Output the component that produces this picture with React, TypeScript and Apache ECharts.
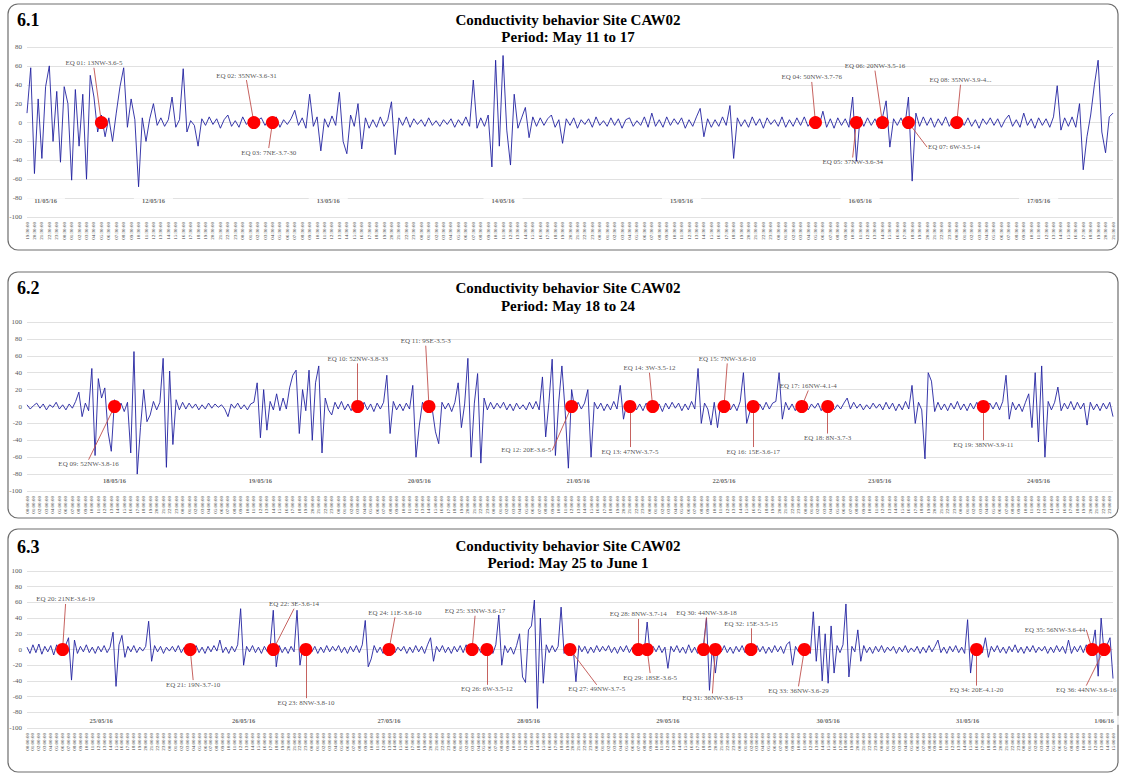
import React, { useEffect, useRef } from "react";
import * as echarts from "echarts";

const FONT = "'Liberation Serif', 'Times New Roman', 'DejaVu Serif', serif";

// ---------------- DATA ----------------
// Half-hourly conductivity readings (index = half-hour step)
// 6.1: 11/05/16 19:30 -> 17/05/16 21:30
const p1Values = [
  10, 58, -54, 25, -38, 38, 60, -20, 33, -42, 38, 20,
  -61, 35, -25, 30, -60, 50, 27, -10, 8, -15, 5, -20,
  10, 38, 58, -5, 25, 3, -68, 5, -20, 4, 20, -3,
  5, -4, 3, 27, -5, 3, 57, -10, 2, -3, -25, 4,
  -3, 6, -2, 4, -6, 3, 8, -4, 2, -5, 6, -2,
  3, -4, 2, 5, -3, 4, -2, 6, -5, 3, -2, 4,
  13, -3, 5, -6, 30, -4, 6, -30, 4, -5, 7, -3,
  32, -20, -33, 8, -4, 20, -28, 5, -6, 3, -5, 6,
  -4, 3, 22, -34, 5, -3, 6, -5, 4, -2, 3, -4,
  5, -3, 2, -4, 3, -2, 4, -5, 3, -3, 6, -4,
  45, -6, 5, -4, 8, -47, 66, -25, 71, -8, -45, 30,
  -6, 5, 16, -16, 6, -4, 5, -3, 4, 8, -5, 3,
  -22, 4, -3, 5, -6, 3, -2, 4, -5, 6, -3, 2,
  -4, 5, -3, 4, -6, 3, 5, -4, 2, -3, 6, -5,
  10, -4, 3, -5, 6, -3, 4, -2, 5, -6, 3, -4,
  6, 15, -15, 4, -5, 3, -4, 6, -3, 18, -38, 5,
  -4, 3, -5, 6, -3, 4, -6, 5, -2, 3, -4, 6,
  -5, 3, -4, 5, -3, 6, -4, 2, 5, -3, 12, -5,
  4, -6, 5, -3, 4, -5, 27, -41, 6, -4, 5, -3,
  4, -6, 5, 23, -26, 4, -3, 5, -5, 27, -62, 10,
  -4, 6, -3, 5, -5, 4, -3, 6, -4, 3, -5, 4,
  -3, 5, -4, 3, -6, 4, -2, 5, -3, 4, -5, 3,
  8, -4, 3, -5, 10, -3, 4, -6, 5, -3, 4, -5,
  6, 39, -8, 5, -4, 6, -5, 20, -50, -15, 8, 40,
  66, -10, -32, 6, 10,
];
// 6.2: 18/05/16 00:00 -> 24/05/16 23:30
const p2Values = [
  2, -3, 1, 4, -2, 3, -4, 2, -1, 5, -3, 2,
  -4, 3, -2, 6, 17, -12, 4, -5, 45, -58, 33, 10,
  22, -30, -53, 8, -5, 4, -6, 5, -55, 65, -80, -25,
  20, -18, -10, 6, -4, 5, 57, -72, 42, -45, 8, -4,
  5, -3, 4, -2, 3, -4, 2, -3, 4, -2, 3, -1,
  2, -3, -12, 3, -2, 4, -3, 2, -4, 3, 5, 28,
  -37, 20, -28, 6, -4, 15, -5, 10, -3, 22, 37, 43,
  -32, 20, -5, 43, -40, 28, 48, -55, 10, -4, -10, 5,
  -3, 6, -4, 3, -5, 4, 6, -3, 5, -4, 3, -6,
  4, -3, 5, 37, -32, 6, -4, 3, -5, 4, -3, 25,
  -60, -23, 5, -4, 6, -3, -30, -44, 5, -3, 4, -6,
  5, 28, -25, 3, 57, -60, 4, 39, -67, 10, -4, 5,
  -3, 4, -2, 5, -4, 3, -5, 4, -3, 2, -4, 5,
  -3, 6, -4, 35, -36, 5, 56, -58, 4, 48, -5, -73,
  20, -4, 5, -3, 4, 20, -60, 5, -3, 4, -5, 3,
  -4, 6, -3, 25, -15, 4, -3, 5, -4, 3, -5, 4,
  -3, 5, -4, 3, -6, 4, -3, 5, -2, 4, -5, 3,
  -4, 6, -3, 45, -20, 4, -3, -22, 5, -25, 4, -3,
  5, -4, 3, -5, 6, 40, -20, -6, 4, -5, 3, -4,
  5, -3, 4, 6, 40, -15, 5, -4, 3, -5, 4, -3,
  5, -4, 3, -2, 4, -5, 3, -3, 5, -4, 2, -3,
  4, 10, -3, 5, -2, 3, -4, 2, -3, 4, -2, 3,
  -4, 5, -3, 4, -5, 3, -4, 6, -3, 25, -20, 5,
  -4, -62, 40, 30, -6, 5, -4, 3, -5, 4, -3, 6,
  -4, 3, -5, 4, -3, 5, -4, 3, -2, 4, -3, 5,
  -4, 6, 37, -15, 5, -4, 3, -6, 5, 15, -25, 40,
  -42, 48, -60, 6, -4, 5, 23, -5, 4, -3, 6, -4,
  5, -3, 4, -22, 5, -4, 3, -5, 4, -3, 5, -12,
];
// 6.3: 25/05/16 00:00 -> 01/06/16 15:00
const p3Values = [
  3, -5, 6, -4, 7, -6, 4, -3, 5, -7, 6, -4,
  3, 5, 15, -39, 12, -5, 4, -3, 6, -4, 3, -5,
  4, -3, 5, -4, 3, 22, -47, 6, 18, -10, 4, -3,
  5, -4, 3, -2, 4, 36, -15, 5, -3, 4, -5, 3,
  -2, 4, -3, 5, -4, 3, -2, 4, -3, 5, -4, 3,
  -5, 4, -3, 5, -2, 12, -4, 3, -5, 4, -3, 6,
  52, -20, 4, -3, 5, -4, 3, -5, 4, -3, 6, 50,
  -22, 5, -4, 3, -5, 4, -3, 50, -20, 5, -4, 6,
  -3, 4, -5, 3, -4, 5, -3, 4, -2, 5, -4, 3,
  -5, 4, -3, 5, -4, 6, 37, -22, -12, 5, -4, 3,
  -5, 4, -3, 5, -4, 3, -2, 4, -5, 3, -4, 5,
  -3, 4, -5, 6, 15, -15, 4, -3, 5, -4, 3, -5,
  4, -3, 5, -4, 6, -3, 4, -5, 3, -4, 5, -3,
  4, -5, 6, 44, -20, 5, -4, 3, -6, 5, 20, -35,
  -42, 25, 30, 63, -75, 40, -43, 6, -4, 5, -3, 4,
  54, -5, 4, -3, 6, -41, 5, -3, 4, -5, 3, -4,
  5, -3, 4, -2, 5, -4, 3, -5, 4, -3, 5, -4,
  3, -5, 4, 6, -3, 35, -6, 4, -3, 5, -4, 3,
  -24, 4, -3, 5, -4, 3, -5, 6, -4, 3, -5, 4,
  6, 40, -52, 5, -30, 4, -3, 5, -4, 3, -5, 4,
  -3, 5, -4, 3, 6, -4, 5, -3, 4, -5, 3, -4,
  5, -3, 4, -5, 6, 10, -20, 4, -3, 5, -4, 3,
  -5, 48, -15, 30, -40, 20, -43, 30, -30, 5, -4, 6,
  58, -35, 4, -3, 25, -15, 5, -4, 3, -5, 4, -3,
  5, -4, 3, -2, 4, -5, 3, -3, 5, -4, 2, -3,
  4, -5, 3, -4, 5, -3, 4, 12, -4, 3, -5, 4,
  -3, 5, -4, 3, -5, 38, -30, 4, -3, 5, -4, 15,
  -10, 4, -3, 5, -4, 3, -5, 4, -3, 6, -4, 3,
  -5, 4, -3, 5, -4, 3, -2, 4, -5, 3, -4, 5,
  -3, 4, -5, 12, -5, 4, -3, 5, -4, 6, -3, 4,
  25, -34, 40, -5, 6, 15, -37,
];

// first sample time of each panel (minutes after midnight)
const p1StartMin = 19 * 60 + 30;
const p2StartMin = 0;
const p3StartMin = 0;

// day labels and the sample index where they are written
const p1Dates = ["11/05/16", "12/05/16", "13/05/16", "14/05/16", "15/05/16", "16/05/16", "17/05/16"];
const p1DateAt = [5, 34, 81, 128, 176, 224, 272];
const p2Dates = ["18/05/16", "19/05/16", "20/05/16", "21/05/16", "22/05/16", "23/05/16", "24/05/16"];
const p2DateAt = [27, 72, 121, 170, 215, 263, 312];
const p3Dates = ["25/05/16", "26/05/16", "27/05/16", "28/05/16", "29/05/16", "30/05/16", "31/05/16", "1/06/16"];
const p3DateAt = [25, 73, 122, 169, 216, 270, 317, 363];

// earthquakes: label and sample index
const p1Quakes = ["EQ 01: 13NW-3.6-5", "EQ 02: 35NW-3.6-31", "EQ 03: 7NE-3.7-30", "EQ 04: 50NW-3.7-76", "EQ 05: 37NW-3.6-34", "EQ 06: 20NW-3.5-16", "EQ 07: 6W-3.5-14", "EQ 08: 35NW-3.9-4..."];
const p1QuakeAt = [20, 61, 66, 212, 223, 230, 237, 250];
const p2Quakes = ["EQ 09: 52NW-3.8-16", "EQ 10: 52NW-3.8-33", "EQ 11: 9SE-3.5-3", "EQ 12: 20E-3.6-5", "EQ 13: 47NW-3.7-5", "EQ 14: 3W-3.5-12", "EQ 15: 7NW-3.6-10", "EQ 16: 15E-3.6-17", "EQ 17: 16NW-4.1-4", "EQ 18: 8N-3.7-3", "EQ 19: 38NW-3.9-11"];
const p2QuakeAt = [27, 102, 124, 168, 186, 193, 215, 224, 239, 247, 295];
const p3Quakes = ["EQ 20: 21NE-3.6-19", "EQ 21: 19N-3.7-10", "EQ 22: 3E-3.6-14", "EQ 23: 8NW-3.8-10", "EQ 24: 11E-3.6-10", "EQ 25: 33NW-3.6-17", "EQ 26: 6W-3.5-12", "EQ 27: 49NW-3.7-5", "EQ 28: 8NW-3.7-14", "EQ 29: 18SE-3.6-5", "EQ 30: 44NW-3.8-18", "EQ 31: 36NW-3.6-13", "EQ 32: 15E-3.5-15", "EQ 33: 36NW-3.6-29", "EQ 34: 20E-4.1-20", "EQ 35: 56NW-3.6-44", "EQ 36: 44NW-3.6-16"];
const p3QuakeAt = [12, 55, 83, 94, 122, 150, 155, 183, 206, 209, 228, 232, 244, 262, 320, 359, 363];

const titles = ["Period: May 11 to 17", "Period: May 18 to 24", "Period: May 25 to June 1"];
const panelNumbers = ["6.1", "6.2", "6.3"];

// ---------------- LAYOUT (callout placement: [index, value, side]) ----------------
const p1Callouts: [number, number, string][] = [[18, 58, "top"], [59, 45, "top"], [65, -27, "bottom"], [211, 43, "top"], [222, -37, "bottom"], [228, 55, "top"], [242, -26, "right"], [251, 40, "top"]];
const p2Callouts: [number, number, string][] = [[19, -63, "bottom"], [102, 51, "top"], [123, 72, "top"], [162, -52, "left"], [186, -48, "bottom"], [192, 40, "top"], [216, 51, "top"], [224, -48, "bottom"], [241, 19, "top"], [247, -32, "bottom"], [295, -40, "bottom"]];
const p3Callouts: [number, number, string][] = [[13, 58, "top"], [56, -39, "bottom"], [90, 52, "top"], [94, -62, "bottom"], [124, 41, "top"], [151, 43, "top"], [155, -45, "bottom"], [192, -45, "bottom"], [206, 39, "top"], [210, -30, "bottom"], [229, 41, "top"], [231, -56, "bottom"], [244, 27, "top"], [260, -47, "bottom"], [320, -46, "bottom"], [357, 25, "left"], [357, -46, "bottom"]];

const LAYOUT = [
  { gridTop: 47, gridH: 170, yMax: 80, box: [8, 4, 1110, 246], titleTop: 11, lh: 17, dateVal: -82 },
  { gridTop: 322, gridH: 169, yMax: 100, box: [8, 272, 1110, 246], titleTop: 279, lh: 18, dateVal: -88 },
  { gridTop: 571, gridH: 157, yMax: 100, box: [8, 529, 1110, 243], titleTop: 538, lh: 16.5, dateVal: -90 },
];

function timeLabels(startMin: number, n: number): string[] {
  const out: string[] = [];
  for (let i = 0; i < n; i++) {
    const m = (startMin + i * 30) % 1440;
    const hh = String(Math.floor(m / 60)).padStart(2, "0");
    const mm = String(m % 60).padStart(2, "0");
    out.push(`${hh}:${mm}:00`);
  }
  return out;
}

const panels = [
  { values: p1Values, start: p1StartMin, dates: p1Dates, dateAt: p1DateAt, quakes: p1Quakes, quakeAt: p1QuakeAt, callouts: p1Callouts },
  { values: p2Values, start: p2StartMin, dates: p2Dates, dateAt: p2DateAt, quakes: p2Quakes, quakeAt: p2QuakeAt, callouts: p2Callouts },
  { values: p3Values, start: p3StartMin, dates: p3Dates, dateAt: p3DateAt, quakes: p3Quakes, quakeAt: p3QuakeAt, callouts: p3Callouts },
];

function buildOption() {
  const grid: any[] = [];
  const xAxis: any[] = [];
  const yAxis: any[] = [];
  const series: any[] = [];
  const graphic: any[] = [];

  panels.forEach((p, i) => {
    const L = LAYOUT[i];
    grid.push({ left: 27, width: 1086, top: L.gridTop, height: L.gridH });
    xAxis.push({
      type: "category",
      gridIndex: i,
      data: timeLabels(p.start, p.values.length),
      boundaryGap: false,
      axisLine: { show: false },
      axisTick: { show: false },
      splitLine: { show: false },
      axisLabel: { rotate: 90, fontSize: 5, interval: 1, margin: 5, color: "#404040", fontFamily: FONT },
    });
    yAxis.push({
      type: "value",
      gridIndex: i,
      min: -100,
      max: L.yMax,
      interval: 20,
      axisLine: { show: false },
      axisTick: { show: false },
      axisLabel: { fontSize: 7, color: "#595959", fontFamily: FONT, margin: 5 },
      splitLine: { lineStyle: { color: "#d9d9d9", width: 0.8 } },
    });

    series.push({
      type: "line",
      xAxisIndex: i,
      yAxisIndex: i,
      data: p.values,
      showSymbol: false,
      symbol: "none",
      silent: true,
      lineStyle: { color: "#2222a0", width: 0.9 },
      z: 2,
    });
    series.push({
      type: "scatter",
      xAxisIndex: i,
      yAxisIndex: i,
      symbolSize: 0,
      silent: true,
      data: p.dates.map((d, k) => ({ name: d, value: [p.dateAt[k], L.dateVal] })),
      label: {
        show: true,
        position: "inside",
        formatter: "{b}",
        fontSize: 6.5,
        fontWeight: "bold",
        fontFamily: FONT,
        color: "#404040",
        backgroundColor: "#ffffff",
        padding: [1, 8],
      },
      z: 3,
    });
    series.push({
      type: "scatter",
      xAxisIndex: i,
      yAxisIndex: i,
      symbolSize: 0,
      silent: true,
      data: p.quakes.map((q, k) => ({
        name: q,
        value: [p.callouts[k][0], p.callouts[k][1]],
        label: { position: p.callouts[k][2] },
      })),
      label: { show: true, formatter: "{b}", fontSize: 7, fontFamily: FONT, color: "#262626", distance: 1 },
      markLine: {
        silent: true,
        symbol: ["none", "none"],
        label: { show: false },
        lineStyle: { color: "#c0504d", width: 0.9, type: "solid", opacity: 1 },
        data: p.quakes.map((q, k) => [
          { coord: [p.quakeAt[k], 0] },
          { coord: [p.callouts[k][0], p.callouts[k][1]] },
        ]),
      },
      z: 4,
    });
    series.push({
      type: "scatter",
      xAxisIndex: i,
      yAxisIndex: i,
      symbol: "circle",
      symbolSize: 13,
      silent: true,
      itemStyle: { color: "#ff0000", opacity: 1 },
      data: p.quakeAt.map((a) => [a, 0]),
      z: 6,
    });

    const [bx, by, bw, bh] = L.box;
    graphic.push({
      type: "rect",
      shape: { x: bx, y: by, width: bw, height: bh, r: 10 },
      style: { fill: "none", stroke: "#6e6e6e", lineWidth: 1.2 },
      z: 0,
      silent: true,
    });
    graphic.push({
      type: "text",
      x: 17,
      y: L.titleTop,
      style: {
        text: panelNumbers[i],
        fontSize: 18,
        fontWeight: "bold",
        fontFamily: FONT,
        fill: "#000",
        verticalAlign: "top",
        textVerticalAlign: "top",
      },
    });
    graphic.push({
      type: "text",
      x: 568,
      y: L.titleTop,
      style: {
        text: "Conductivity behavior Site CAW02\n" + titles[i],
        fontSize: 15,
        fontWeight: "bold",
        fontFamily: FONT,
        fill: "#000",
        lineHeight: L.lh,
        align: "center",
        textAlign: "center",
        verticalAlign: "top",
        textVerticalAlign: "top",
      },
    });
  });

  return {
    animation: false,
    backgroundColor: "#ffffff",
    grid,
    xAxis,
    yAxis,
    series,
    graphic,
  };
}

export default function App() {
  const ref = useRef<HTMLDivElement>(null);
  useEffect(() => {
    document.body.style.margin = "0";
    if (!ref.current) return;
    const chart = echarts.init(ref.current, undefined, { renderer: "svg" });
    chart.setOption(buildOption() as any);
    return () => chart.dispose();
  }, []);
  return <div ref={ref} style={{ width: 1122, height: 775 }} />;
}
